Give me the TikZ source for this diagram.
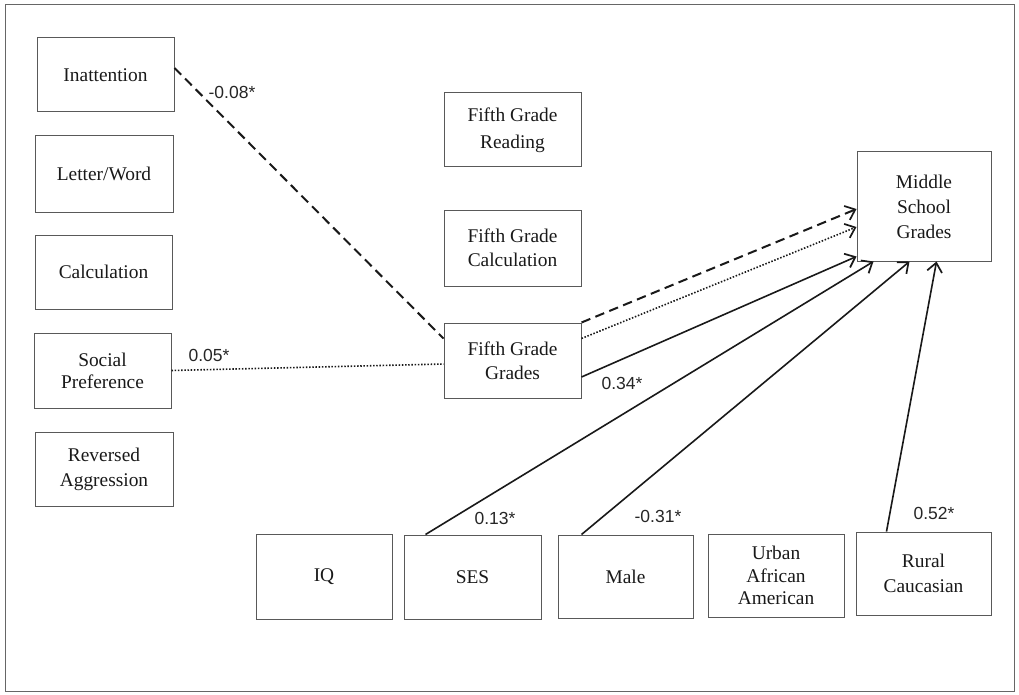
\documentclass[tikz,border=0pt]{standalone}
\usepackage{fontspec}
\setmainfont{Liberation Serif}
\newfontfamily\lblfont{Liberation Sans}
\usetikzlibrary{arrows.meta,calc}
\begin{document}
\begin{tikzpicture}[x=1pt,y=-1pt,
  box/.style={draw=black!65, line width=1pt, align=center, inner sep=0pt,
    font=\fontsize{19.4}{24}\selectfont, text=black!90},
  lbl/.style={font=\lblfont\fontsize{17.5}{20}\selectfont, text=black!85, inner sep=0pt},
  conn/.style={line width=1.6pt, draw=black!90},
  dashedline/.style={conn, line width=2pt, dash pattern=on 9.5pt off 5.5pt},
  dottedline/.style={conn, line width=1.6pt, dash pattern=on 1.5pt off 1.7pt},
  arr/.style={-{Straight Barb[length=9pt,width=15pt,line width=1.7pt]}}
]
\useasboundingbox (0,0) rectangle (1019,695);
\draw[black!60, line width=1pt] (5,5) rectangle (1014,691);

\node[box, minimum width=137pt, minimum height=74pt] (inat) at (105.5,75) {Inattention};
\node[box, minimum width=138pt, minimum height=76pt] (lw) at (104,174) {Letter/Word};
\node[box, minimum width=137pt, minimum height=74pt] (calc) at (103.5,272) {Calculation};
\node[box, minimum width=137pt, minimum height=75pt, font=\fontsize{19.4}{22}\selectfont] (soc) at (102.5,370.5) {Social\\Preference};
\node[box, minimum width=138pt, minimum height=74pt, font=\fontsize{19.4}{25}\selectfont] (rev) at (104,469) {Reversed\\Aggression};

\node[box, minimum width=137pt, minimum height=74pt, font=\fontsize{19.4}{27}\selectfont] (fgr) at (512.5,130) {Fifth Grade\\Reading};
\node[box, minimum width=137pt, minimum height=76pt] (fgc) at (512.5,248) {Fifth Grade\\Calculation};
\node[box, minimum width=137pt, minimum height=75pt] (fgg) at (512.5,360.5) {Fifth Grade\\Grades};
\node[box, minimum width=134pt, minimum height=109pt, font=\fontsize{19.4}{25}\selectfont] (msg) at (924,206.5) {Middle\\School\\Grades};

\node[box, minimum width=136pt, minimum height=85pt] (iq) at (324,576.5) {IQ};
\node[box, minimum width=137pt, minimum height=84pt] (ses) at (472.5,577) {SES};
\node[box, minimum width=135pt, minimum height=83pt] (male) at (625.5,576.5) {Male};
\node[box, minimum width=136pt, minimum height=83pt, font=\fontsize{19.4}{22.5}\selectfont] (urban) at (776,575.5) {Urban\\African\\American};
\node[box, minimum width=135pt, minimum height=83pt, font=\fontsize{19.4}{25}\selectfont] (rural) at (923.5,573.5) {Rural\\Caucasian};

% paths into fifth grade grades
\draw[dashedline] ([yshift=7pt]inat.east) -- ([yshift=-16pt]fgg.north west);
\draw[dottedline] (soc.east) -- ([yshift=-3.5pt]fgg.west);

% paths into middle school grades
\draw[dashedline, arr] (fgg.north east) -- ([yshift=-2.5pt]msg.west);
\draw[dottedline, arr] ([yshift=-16pt]fgg.north east) -- ([yshift=-20.5pt]msg.west);
\draw[conn, arr] ([yshift=-16.5pt]fgg.east) -- ([yshift=5pt]msg.south west);
\draw[conn, arr] ([xshift=22pt]ses.north west) -- ([xshift=17pt]msg.south west);
\draw[conn, arr] ([xshift=24pt]male.north west) -- ([xshift=53pt]msg.south west);
\draw[conn, arr] ([xshift=31pt]rural.north west) -- ([xshift=80pt]msg.south west);

% labels
\node[lbl] (l1) at (232,92) {-0.08*};
\node[lbl] (l2) at (209,355) {0.05*};
\node[lbl] (l3) at (622,383) {0.34*};
\node[lbl] (l4) at (495,518) {0.13*};
\node[lbl] (l5) at (658,516) {-0.31*};
\node[lbl] (l6) at (934,513) {0.52*};
\end{tikzpicture}
\end{document}
